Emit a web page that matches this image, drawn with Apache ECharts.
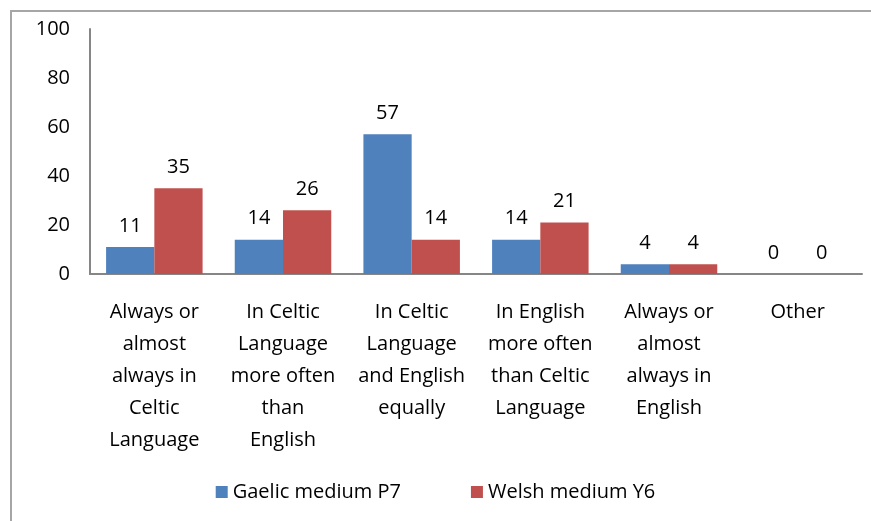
<!DOCTYPE html>
<html>
<head>
<meta charset="utf-8">
<script src="https://cdn.jsdelivr.net/npm/echarts@6/dist/echarts.min.js"></script>
<style>
  html, body { margin: 0; padding: 0; background: #fff; }
  #chart { width: 871px; height: 521px; }
</style>
</head>
<body>
<div id="chart"></div>
<script>
var categories = [
    'Always or\nalmost\nalways in\nCeltic\nLanguage',
    'In Celtic\nLanguage\nmore often\nthan\nEnglish',
    'In Celtic\nLanguage\nand English\nequally',
    'In English\nmore often\nthan Celtic\nLanguage',
    'Always or\nalmost\nalways in\nEnglish',
    'Other'
]
var gaelicP7 = [11, 14, 57, 14, 4, 0]
var welshY6 = [35, 26, 14, 21, 4, 0]
var seriesNames = ['Gaelic medium P7', 'Welsh medium Y6']

var font = 'Open Sans'
var fs = 20
var myChart = echarts.init(document.getElementById('chart'))

var option = {
    animation: false,
    backgroundColor: '#fff',
    textStyle: { fontFamily: font },
    graphic: [{
        type: 'rect',
        shape: { x: 11, y: 11, width: 1000, height: 1000 },
        style: { fill: 'none', stroke: '#a6a6a6', lineWidth: 2 },
        silent: true
    }],
    legend: {
        data: seriesNames,
        bottom: 14,
        left: 'center',
        itemWidth: 12,
        itemHeight: 12,
        itemGap: 70,
        icon: 'rect',
        textStyle: { fontFamily: font, fontSize: fs, color: '#000' }
    },
    grid: { left: 90, right: 9, top: 29, bottom: 247 },
    xAxis: {
        type: 'category',
        data: categories,
        axisLine: { lineStyle: { color: '#868686', width: 2 } },
        axisTick: { show: false },
        axisLabel: {
            interval: 0,
            margin: 22,
            fontFamily: font,
            fontSize: fs,
            lineHeight: 32,
            color: '#000'
        }
    },
    yAxis: {
        type: 'value',
        min: 0,
        max: 100,
        interval: 20,
        axisLine: { show: true, lineStyle: { color: '#868686', width: 2 } },
        axisTick: { show: false },
        splitLine: { show: false },
        axisLabel: { margin: 20, fontFamily: font, fontSize: fs, color: '#000' }
    },
    series: [{
        name: seriesNames[0],
        type: 'bar',
        data: gaelicP7,
        barGap: 0,
        barCategoryGap: '25%',
        itemStyle: { color: '#4f81bd' },
        label: { show: true, position: 'top', distance: 11, fontFamily: font, fontSize: fs, color: '#000' }
    }, {
        name: seriesNames[1],
        type: 'bar',
        data: welshY6,
        barGap: 0,
        barCategoryGap: '25%',
        itemStyle: { color: '#c0504d' },
        label: { show: true, position: 'top', distance: 11, fontFamily: font, fontSize: fs, color: '#000' }
    }]
}
myChart.setOption(option)
</script>
</body>
</html>
